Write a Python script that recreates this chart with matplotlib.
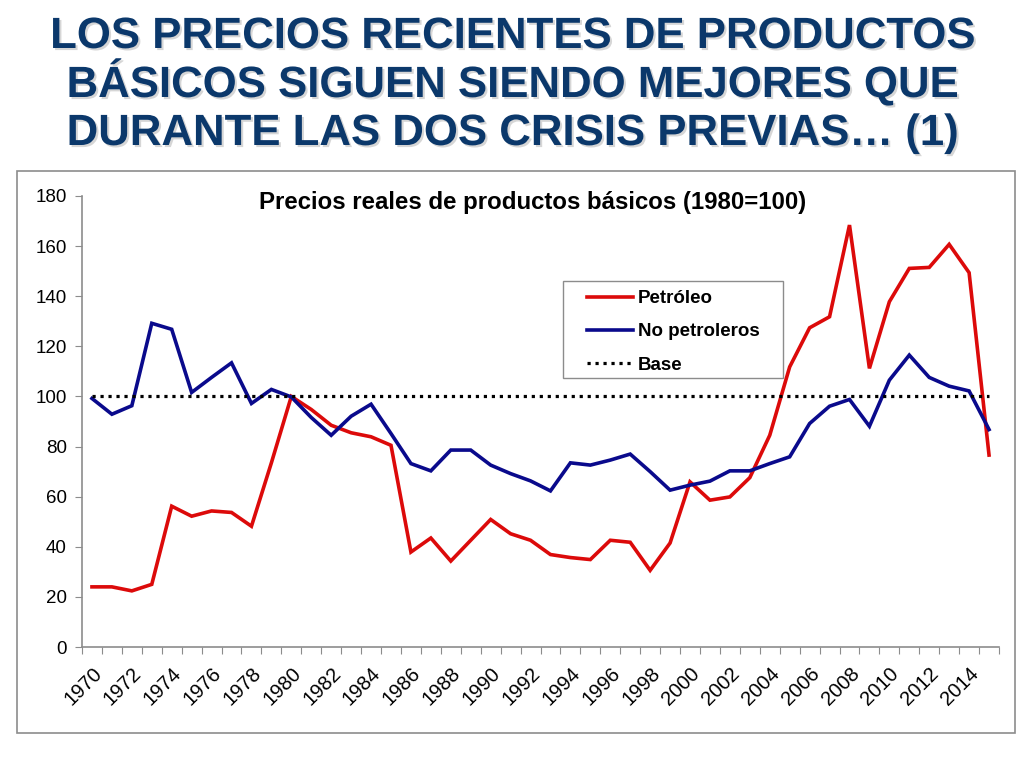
import numpy as np
import matplotlib
matplotlib.use("Agg")
import matplotlib.pyplot as plt
import matplotlib.patheffects as pe
from matplotlib.patches import Rectangle

plt.rcParams['font.family'] = ['Liberation Sans', 'DejaVu Sans']

years = list(range(1970, 2016))

petroleo = [24.0, 24.0, 22.4, 25.0, 56.2, 52.2, 54.3, 53.7, 48.2, 73.5,
            100.0, 94.8, 88.5, 85.5, 83.9, 80.5, 37.9, 43.5, 34.3, 42.6,
            50.9, 45.2, 42.6, 36.9, 35.7, 34.9, 42.6, 41.8, 30.6, 41.5,
            65.9, 58.6, 59.9, 67.6, 84.5, 111.8, 127.4, 131.8, 168.4, 111.2,
            137.8, 151.1, 151.5, 160.7, 149.4, 76.6]

no_petroleros = [99.2, 92.9, 96.3, 129.2, 126.8, 101.6, 107.6, 113.4, 97.2, 102.8,
                 99.8, 91.6, 84.5, 92.1, 96.9, 85.2, 73.2, 70.3, 78.6, 78.6,
                 72.6, 69.2, 66.3, 62.3, 73.5, 72.6, 74.6, 77.0, 70.0, 62.6,
                 64.6, 66.2, 70.3, 70.3, 73.2, 75.9, 89.2, 96.1, 98.8, 88.1,
                 106.5, 116.5, 107.6, 104.1, 102.2, 86.8]

base = [100] * len(years)

title_lines = ["LOS PRECIOS RECIENTES DE PRODUCTOS",
               "BÁSICOS SIGUEN SIENDO MEJORES QUE",
               "DURANTE LAS DOS CRISIS PREVIAS… (1)"]
chart_title = "Precios reales de productos básicos (1980=100)"

fig = plt.figure(figsize=(10.24, 7.68), dpi=100)

# slide title, one text per line (baselines in px from top)
shadow = [pe.SimplePatchShadow(offset=(1.5, -1.5), shadow_rgbFace='#999999', alpha=0.4), pe.Normal()]
for line, base_px in zip(title_lines, [48, 97, 145]):
    fig.text(0.5, 1 - base_px / 768, line, ha='center', va='baseline', fontsize=31.5,
             fontweight='bold', color='#0B386B', path_effects=shadow)

# chart frame
fig.patches.append(Rectangle((17 / 1024, 1 - 733 / 768), (1015 - 17) / 1024, (733 - 171) / 768,
                             transform=fig.transFigure, fill=False, edgecolor='#8c8c8c', lw=1.2))

ax = fig.add_axes([82 / 1024, 1 - 647 / 768, (999 - 82) / 1024, (647 - 196) / 768])
x = np.arange(len(years))

ax.plot(x, petroleo, color='#DC0A0A', lw=2.6, label='Petróleo', solid_joinstyle='miter')
ax.plot(x, no_petroleros, color='#0A0A8C', lw=2.6, label='No petroleros', solid_joinstyle='miter')
ax.plot(x, base, color='black', lw=2.3, linestyle=(0, (1, 1.5)), label='Base')

ax.set_xlim(-0.5, len(years) - 0.5)
ax.set_ylim(0, 180)
ax.set_yticks(range(0, 181, 20))
ax.tick_params(axis='y', labelsize=13.5, length=5, color='#8c8c8c', pad=6)

ax.set_xticks(np.arange(len(years) + 1) - 0.5)
ax.set_xticklabels([])
ax.tick_params(axis='x', which='major', length=5, color='#8c8c8c')
ax.set_xticks(x[::2], minor=True)
ax.set_xticklabels([str(y) for y in years[::2]], minor=True, rotation=45, ha='right',
                   rotation_mode='anchor', fontsize=14.5)
ax.tick_params(axis='x', which='minor', length=0, pad=12)

for side in ['top', 'right']:
    ax.spines[side].set_visible(False)
for side in ['left', 'bottom']:
    ax.spines[side].set_color('#8c8c8c')
    ax.spines[side].set_linewidth(1.2)

fig.text(533 / 1024, 1 - 203 / 768, chart_title, ha='center', va='center',
         fontsize=17.3, fontweight='bold')

# legend, with its own box
ax.legend(loc='upper left', bbox_to_anchor=((587 - 82) / 917, (647 - 290) / 451),
          frameon=False, prop={'weight': 'bold', 'size': 13.5}, handlelength=2.45,
          handletextpad=0.27, borderpad=0, borderaxespad=0, labelspacing=0.86)
ax.add_patch(Rectangle(((563 - 82) / 917, (647 - 378) / 451), 220 / 917, 97 / 451,
                       transform=ax.transAxes, fill=False, edgecolor='#8c8c8c', lw=1.0))

fig.savefig('out.png', dpi=100)
